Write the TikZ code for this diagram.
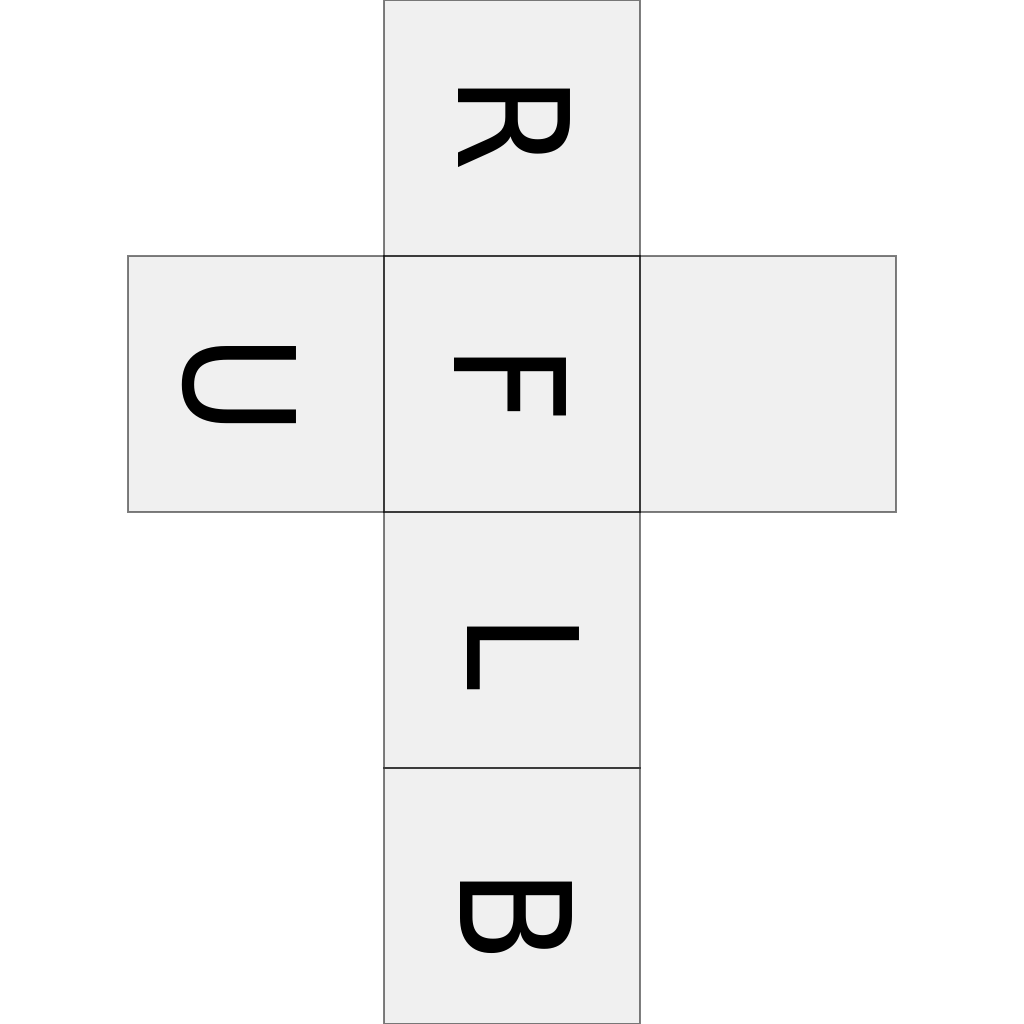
\documentclass[tikz,border=0pt]{standalone}
\usepackage{fontspec}
\newfontfamily\letterfont[FakeStretch=0.9]{DejaVu Sans}
\definecolor{facefill}{RGB}{240,240,240}
\tikzset{
  face/.style={fill=facefill, minimum size=2.56cm, inner sep=0pt, outer sep=0pt, anchor=center},
  faceedge/.style={draw=black, draw opacity=0.5, line width=0.5pt},
  letter/.style={inner sep=0pt, rotate=-90, font=\letterfont\fontsize{43.7pt}{43.7pt}\selectfont, text=black}
}
\begin{document}
\begin{tikzpicture}
\useasboundingbox (0,0) rectangle (10.24,10.24);
\node[face] (top)    at (5.12,8.96) {};
\node[face] (front)  at (5.12,6.40) {};
\node[face] (left)   at (2.56,6.40) {};
\node[face] (right)  at (7.68,6.40) {};
\node[face] (below)  at (5.12,3.84) {};
\node[face] (bottom) at (5.12,1.28) {};
\foreach \n in {top,front,left,right,below,bottom}
  \draw[faceedge] (\n.south west) rectangle (\n.north east);
\node[letter] (tR) at (5.14,9.008) {R};
\node[letter] (tF) at (5.10,6.397) {F};
\node[letter] (tU) at (2.39,6.39) {U};
\node[letter] (tL) at (5.23,3.72) {L};
\node[letter] (tB) at (5.16,1.08) {B};
\end{tikzpicture}
\end{document}
